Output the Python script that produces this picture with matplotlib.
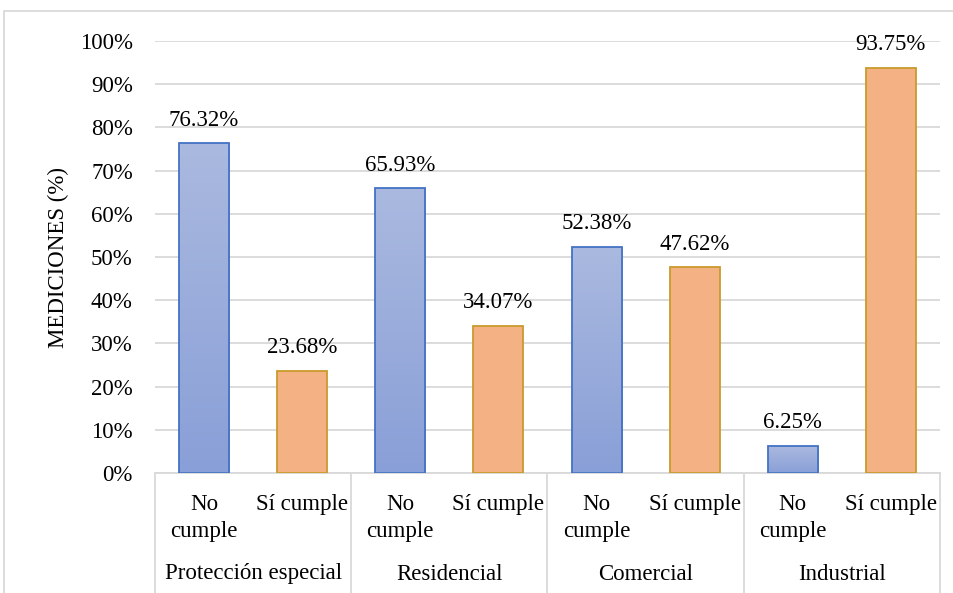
import numpy as np
import matplotlib.pyplot as plt
from matplotlib.lines import Line2D
from matplotlib.colors import LinearSegmentedColormap
import matplotlib.transforms as mtransforms

plt.rcParams['font.family'] = ['Liberation Serif', 'DejaVu Serif']

# === Data ===
groups = ['Protección especial', 'Residencial', 'Comercial', 'Industrial']
sub_labels = ['No\ncumple', 'Sí cumple']
no_cumple = [76.32, 65.93, 52.38, 6.25]
si_cumple = [23.68, 34.07, 47.62, 93.75]
y_ticks = [0, 10, 20, 30, 40, 50, 60, 70, 80, 90, 100]

blue_top, blue_bot, blue_edge = '#AAB9DF', '#899FD7', '#4472C4'
orange_fill, orange_edge = '#F4B183', '#C99B2C'
grid_col = '#D9D9D9'
fs = 16.5

W, H = 954, 593
fig = plt.figure(figsize=(W / 100, H / 100), dpi=100)
ax = fig.add_axes([155 / W, 1 - 473 / H, (940 - 155) / W, (473 - 41) / H])

bw = 0.51
values, xs = [], []
for i in range(len(groups)):
    xs += [2 * i, 2 * i + 1]
    values += [no_cumple[i], si_cumple[i]]

grad = np.linspace(1, 0, 256).reshape(-1, 1)
cmap = LinearSegmentedColormap.from_list('b', [blue_bot, blue_top])

for k, (x, v) in enumerate(zip(xs, values)):
    if k % 2 == 0:
        im = ax.imshow(grad, cmap=cmap, aspect='auto', extent=[x - bw / 2, x + bw / 2, 0, v], zorder=2)
        bar = ax.bar(x, v, width=bw, facecolor='none', edgecolor=blue_edge, linewidth=1.3, zorder=3)
        im.set_clip_path(bar[0])
    else:
        ax.bar(x, v, width=bw, facecolor=orange_fill, edgecolor=orange_edge, linewidth=1.3, zorder=3)
    ax.annotate(f"{v:.2f}%", (x, v), xytext=(0, 9), textcoords='offset points',
                ha='center', va='bottom', fontsize=fs)

ax.set_xlim(-0.5, 7.5)
ax.set_ylim(0, 100)
ax.set_yticks(y_ticks)
ax.set_yticklabels([f"{t}%" for t in y_ticks], fontsize=fs)
ax.tick_params(axis='y', length=0, pad=16)
ax.set_xticks([])
ax.yaxis.grid(True, color=grid_col, linewidth=1.3)
ax.set_axisbelow(True)
for s in ['top', 'right', 'left']:
    ax.spines[s].set_visible(False)
ax.spines['bottom'].set_color(grid_col)
ax.spines['bottom'].set_linewidth(1.3)
ax.set_ylabel('MEDICIONES (%)', fontsize=fs, va='center')
ax.yaxis.set_label_coords((58 - 155) / (940 - 155), 0.5)

# category axis with groups
trans = mtransforms.blended_transform_factory(ax.transData, ax.transAxes)
scale = 473 - 41
y_bottom = -(H - 473) / scale
for xsep in [-0.5, 1.5, 3.5, 5.5, 7.5]:
    ax.plot([xsep, xsep], [0, y_bottom], transform=trans, color=grid_col,
            linewidth=1.3, clip_on=False)
for x in xs:
    ax.text(x, -(494 - 473) / scale, sub_labels[x % 2], transform=trans, ha='center', va='top',
            fontsize=fs, linespacing=1.4)
for i, g in enumerate(groups):
    ax.text(2 * i + 0.5, -(574 - 473) / scale, g, transform=trans, ha='center', va='center',
            fontsize=fs)

# outer chart border
fig.add_artist(Line2D([4 / W, 4 / W, 1], [0, 1 - 11 / H, 1 - 11 / H], color=grid_col,
                      linewidth=1.3, transform=fig.transFigure))

fig.savefig('out.png', dpi=100)
